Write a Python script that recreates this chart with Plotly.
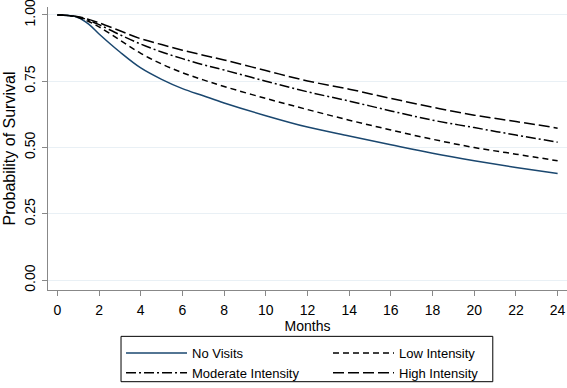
import plotly.graph_objects as go

months = [0, 0.5, 1, 1.5, 2, 3, 4, 5, 6, 7, 8, 10, 12, 14, 16, 18, 20, 22, 24]
no_visits = [1.0, 0.998, 0.99, 0.965, 0.928, 0.86, 0.80, 0.757, 0.722, 0.695, 0.668, 0.62, 0.577, 0.543, 0.51, 0.478, 0.45, 0.425, 0.402]
low_int = [1.0, 0.998, 0.99, 0.975, 0.955, 0.905, 0.855, 0.815, 0.782, 0.755, 0.73, 0.685, 0.643, 0.603, 0.566, 0.531, 0.50, 0.475, 0.45]
mod_int = [1.0, 0.998, 0.992, 0.98, 0.963, 0.925, 0.89, 0.86, 0.835, 0.812, 0.792, 0.75, 0.71, 0.675, 0.638, 0.603, 0.575, 0.547, 0.52]
high_int = [1.0, 0.998, 0.993, 0.983, 0.97, 0.94, 0.91, 0.888, 0.867, 0.848, 0.83, 0.79, 0.751, 0.72, 0.685, 0.652, 0.622, 0.598, 0.573]

x_ticks = list(range(0, 25, 2))
y_ticks = [0, 0.25, 0.5, 0.75, 1.0]
y_labels = ["0.00", "0.25", "0.50", "0.75", "1.00"]

fig = go.Figure()
fig.add_trace(go.Scatter(x=months, y=no_visits, mode="lines", name="No Visits", legend="legend",
                         line=dict(color="#1a476f", width=1.5, shape="spline")))
fig.add_trace(go.Scatter(x=months, y=low_int, mode="lines", name="Low Intensity", legend="legend2",
                         line=dict(color="black", width=1.5, dash="6px,4px", shape="spline")))
fig.add_trace(go.Scatter(x=months, y=mod_int, mode="lines", name="Moderate Intensity", legend="legend",
                         line=dict(color="black", width=1.5, dash="10px,3px,2px,3px", shape="spline")))
fig.add_trace(go.Scatter(x=months, y=high_int, mode="lines", name="High Intensity", legend="legend2",
                         line=dict(color="black", width=1.5, dash="11px,4px", shape="spline")))

font = "Liberation Sans, Arial, sans-serif"
leg_common = dict(orientation="v", yanchor="top", xanchor="left", borderwidth=0,
                  bgcolor="rgba(0,0,0,0)", font=dict(size=13), itemwidth=61,
                  tracegroupgap=0, maxheight=100)
fig.update_layout(
    width=567, height=388,
    margin=dict(l=48, r=0, t=7, b=94),
    paper_bgcolor="white", plot_bgcolor="white",
    font=dict(family=font, color="black", size=14),
    showlegend=True,
    legend=dict(x=0.1407, y=-0.1707, **leg_common),
    legend2=dict(x=0.5395, y=-0.1707, **leg_common),
    shapes=[dict(type="rect", xref="paper", yref="paper", x0=0.1407, x1=0.857,
                 y0=-0.3240, y1=-0.1638, line=dict(color="black", width=1),
                 fillcolor="rgba(0,0,0,0)", layer="above")],
    xaxis=dict(range=[-0.45, 24.45], tickvals=x_ticks, ticks="outside", ticklen=5,
               tickcolor="#888888", showline=True, linecolor="#888888", linewidth=1,
               showgrid=False, zeroline=False, tickfont=dict(size=14),
               ticklabeloverflow="allow", automargin=False, ticklabelstandoff=2,
               title=dict(text="Months", standoff=0, font=dict(size=14))),
    yaxis=dict(range=[-0.0372, 1.0297], tickvals=y_ticks, ticktext=y_labels, ticks="outside",
               ticklen=5, tickcolor="#888888", showline=True, linecolor="#888888", linewidth=1,
               showgrid=True, gridcolor="#e9f0f5", gridwidth=1, zeroline=False,
               tickangle=-90, tickfont=dict(size=14), ticklabelstandoff=1,
               ticklabeloverflow="allow", automargin=False,
               title=dict(text="Probability of Survival", standoff=2, font=dict(size=16))),
)

fig.write_html("out.html", config={"displayModeBar": False},
               post_script="document.body.style.margin='0';")
